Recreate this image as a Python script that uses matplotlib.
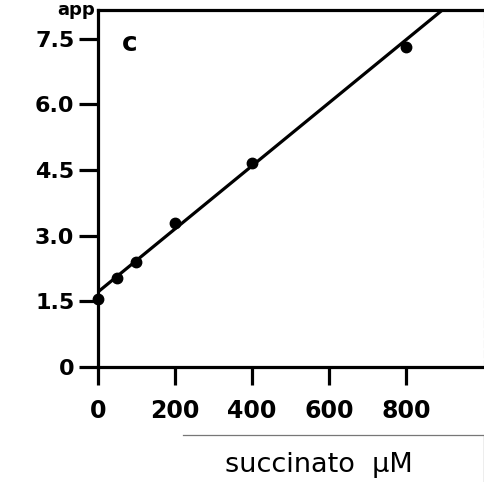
import numpy as np
import matplotlib.pyplot as plt
from matplotlib.lines import Line2D

# valores
succinato = [0, 50, 100, 200, 400, 800]
k_app = [1.55, 2.03, 2.40, 3.29, 4.66, 7.31]
fit_x = [0, 1000]
intercept = 1.71
slope = 0.0072

xticks = [0, 200, 400, 600, 800]
yticks = [0, 1.5, 3.0, 4.5, 6.0, 7.5]
ytick_labels = ['0', '1.5', '3.0', '4.5', '6.0', '7.5']

fig = plt.figure(figsize=(4.85, 4.82), dpi=100)
ax = fig.add_axes([0.202, 0.239, 0.796, 0.740])

fx = np.array(fit_x)
ax.plot(fx, intercept + slope * fx, color='black', lw=2.3, solid_capstyle='round')
ax.plot(succinato, k_app, 'o', color='black', ms=7.5, clip_on=False, zorder=5)

ax.set_xlim(0, 1003)
ax.set_ylim(0, 8.15)
ax.set_xticks(xticks)
ax.set_xticklabels([str(v) for v in xticks])
ax.set_yticks(yticks)
ax.set_yticklabels(ytick_labels)

for s in ['left', 'bottom', 'top']:
    ax.spines[s].set_linewidth(2.3)
ax.spines['right'].set_linewidth(0.8)
ax.spines['right'].set_color('#999999')
ax.spines['right'].set_linestyle((0, (6, 3)))

ax.tick_params(axis='x', direction='out', length=13, width=2.3, pad=10,
               labelsize=17)
ax.tick_params(axis='y', direction='out', length=14, width=2.3, pad=3,
               labelsize=16)
for lab in ax.get_xticklabels() + ax.get_yticklabels():
    lab.set_fontweight('bold')

ax.text(0.083, 0.905, 'c', transform=ax.transAxes, fontsize=19,
        fontweight='bold', va='center', ha='center')

# resto del rotulo del eje y (en el original queda cortado arriba)
fig.text(0.195, 0.998, 'app', fontsize=13, fontweight='bold', ha='right',
         va='top')

# recuadro del rotulo del eje x
fig.add_artist(Line2D([0.377, 0.998], [0.098, 0.098], color='#777777', lw=0.9))
fig.add_artist(Line2D([0.998, 0.998], [0.0, 0.098], color='#777777', lw=0.9))
fig.text(0.658, 0.035, 'succinato  \u00b5M', fontsize=19.5, ha='center',
         va='center')

fig.savefig('out.png', dpi=100)
